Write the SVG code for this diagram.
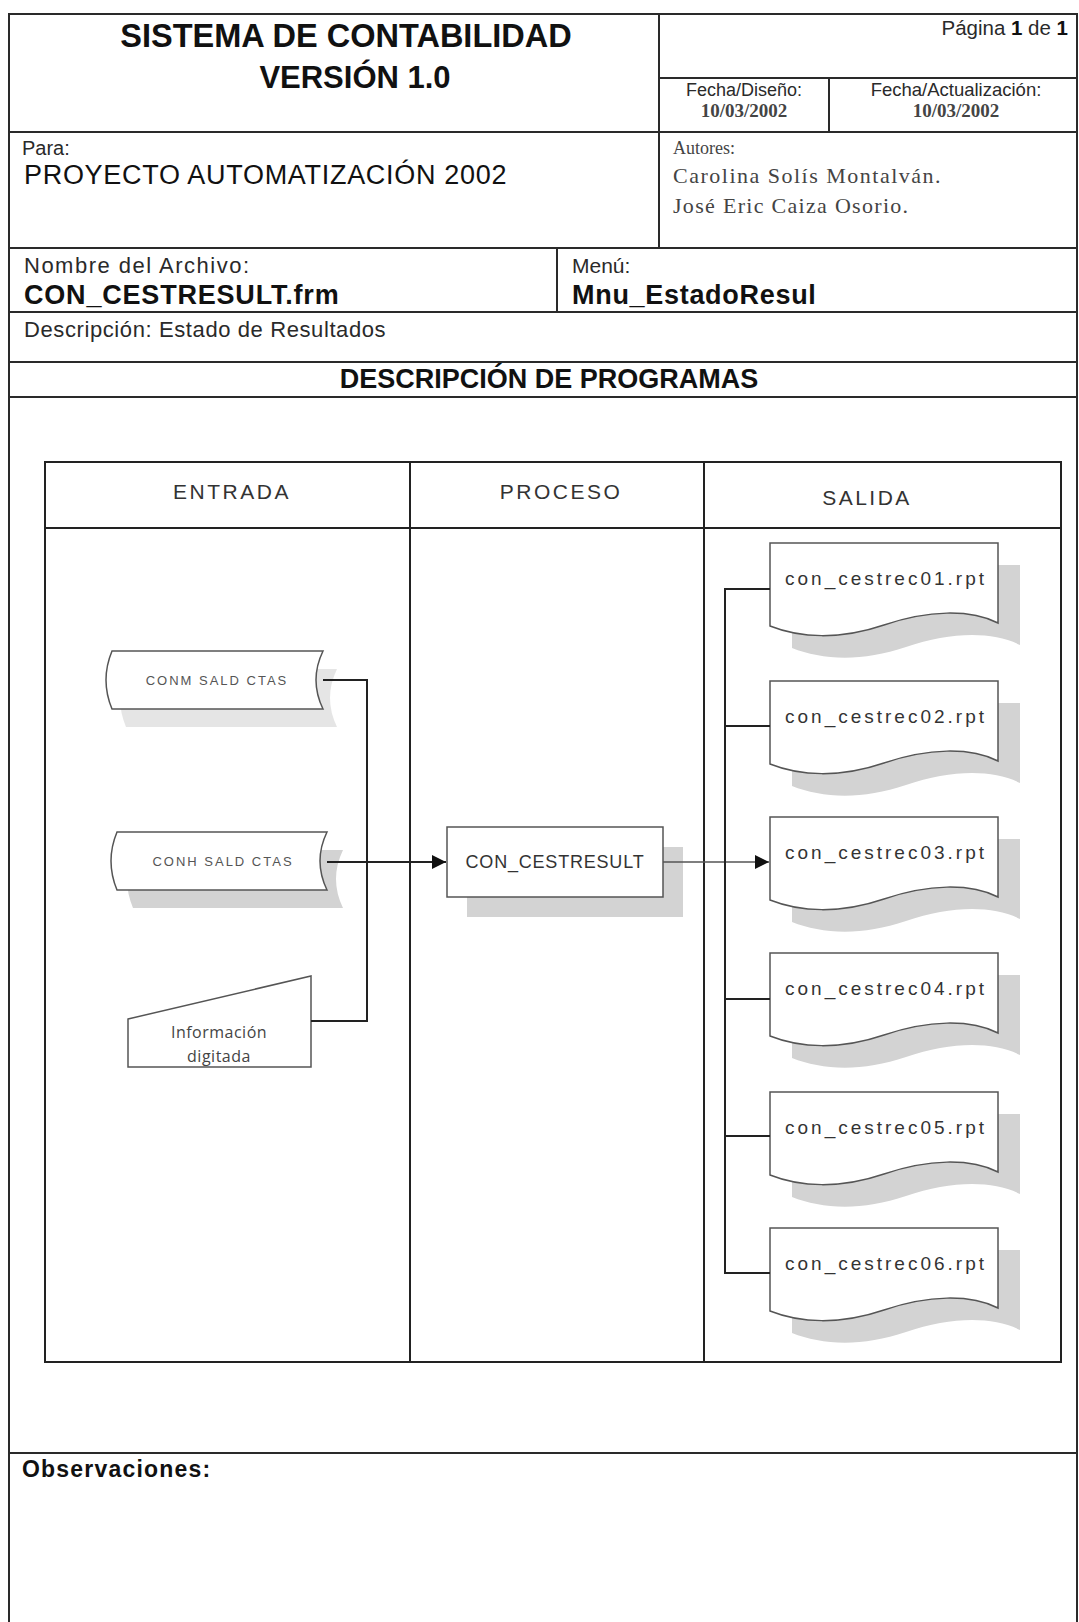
<svg xmlns="http://www.w3.org/2000/svg" width="1079" height="1622" viewBox="0 0 1079 1622">
<defs>
<style>
.frame{stroke:#2a2a2a;stroke-width:2;fill:none}
.lane{stroke:#222;stroke-width:2;fill:none}
.hdr{font-family:"Liberation Sans",Arial,sans-serif;fill:#2a2a2a}
.bold{font-weight:bold;fill:#111}
.serif{font-family:"Liberation Serif","Times New Roman",serif;fill:#444}
.lanetitle{font-family:"Liberation Sans",Arial,sans-serif;font-size:21px;letter-spacing:2.5px;fill:#333;text-anchor:middle}
.shape{fill:#fff;stroke:#555;stroke-width:1.5}
.shadow{fill:#d3d3d3}
.store{font-family:"Liberation Sans",Arial,sans-serif;font-size:13px;letter-spacing:2px;fill:#555;text-anchor:middle}
.doctext{font-family:"Liberation Sans",Arial,sans-serif;font-size:19px;letter-spacing:3px;fill:#333}
.conn{stroke:#222;stroke-width:2;fill:none}
.thin{stroke:#555;stroke-width:1.3;fill:none}
</style>
<marker id="arrow" viewBox="0 0 10 10" refX="10" refY="5" markerWidth="16" markerHeight="14" markerUnits="userSpaceOnUse" orient="auto">
<path d="M0,0 L10,5 L0,10 Z" fill="#111"/>
</marker>
<path id="doc" d="M0,0 H228 V80 C200,66 158,67 114,82 C70,97 30,95 0,83 Z"/>
</defs>
<rect width="1079" height="1622" fill="#fff"/>

<g id="page-frame" class="frame">
<path d="M9,1622 V14 H1077 V1622"/>
<path d="M9,132 H1077 M9,248 H1077 M9,312 H1077 M9,362 H1077 M9,397 H1077 M9,1453 H1077"/>
<path d="M659,14 V248 M659,78 H1077 M829,78 V132 M557,248 V312"/>
</g>

<g id="header" class="hdr">
<text class="bold" x="346" y="47" font-size="32.5" text-anchor="middle">SISTEMA DE CONTABILIDAD</text>
<text class="bold" x="355" y="88" font-size="31" text-anchor="middle">VERSIÓN 1.0</text>
<text x="1068" y="35" font-size="20.5" text-anchor="end">Página <tspan font-weight="bold" fill="#111">1</tspan> de <tspan font-weight="bold" fill="#111">1</tspan></text>
<text x="744" y="96" font-size="18" text-anchor="middle">Fecha/Diseño:</text>
<text class="serif" x="744" y="117" font-size="19" font-weight="bold" text-anchor="middle" fill="#222">10/03/2002</text>
<text x="956" y="96" font-size="18.5" text-anchor="middle">Fecha/Actualización:</text>
<text class="serif" x="956" y="117" font-size="19" font-weight="bold" text-anchor="middle" fill="#222">10/03/2002</text>
<text x="22" y="155" font-size="20">Para:</text>
<text x="24" y="184" font-size="27" letter-spacing="0.7" fill="#111">PROYECTO AUTOMATIZACIÓN 2002</text>
<text class="serif" x="673" y="154" font-size="18">Autores:</text>
<text class="serif" x="673" y="183" font-size="22" letter-spacing="1.5">Carolina Solís Montalván.</text>
<text class="serif" x="673" y="213" font-size="22" letter-spacing="1.3">José Eric Caiza Osorio.</text>
<text x="24" y="273" font-size="22" letter-spacing="1.5">Nombre del Archivo:</text>
<text class="bold" x="24" y="304" font-size="27" letter-spacing="0.8">CON_CESTRESULT.frm</text>
<text x="572" y="273" font-size="21">Menú:</text>
<text class="bold" x="572" y="304" font-size="27" letter-spacing="0.7">Mnu_EstadoResul</text>
<text x="24" y="337" font-size="22" letter-spacing="0.6">Descripción: Estado de Resultados</text>
<text class="bold" x="549" y="388" font-size="27" text-anchor="middle">DESCRIPCIÓN DE PROGRAMAS</text>
<text class="bold" x="22" y="1477" font-size="23" letter-spacing="1.2" fill="#222">Observaciones:</text>
</g>

<g id="swimlanes" class="lane">
<rect x="45" y="462" width="1016" height="900"/>
<path d="M45,528 H1061 M410,462 V1362 M704,462 V1362"/>
<text class="lanetitle" x="232" y="499" stroke="none">ENTRADA</text>
<text class="lanetitle" x="561" y="499" stroke="none">PROCESO</text>
<text class="lanetitle" x="867" y="505" stroke="none">SALIDA</text>
</g>

<g id="node-conm">
<path class="shadow" fill-opacity="0.6" d="M126,669 H337 Q323,698 337,727 H126 Q114,698 126,669 Z"/>
<path class="shape" d="M112,651 H323 Q309,680 323,709 H112 Q100,680 112,651 Z"/>
<text class="store" x="217" y="685">CONM SALD CTAS</text>
</g>

<g id="node-conh">
<path class="shadow" d="M133,850 H343 Q329,879 343,908 H133 Q121,879 133,850 Z"/>
<path class="shape" d="M117,832 H327 Q313,861 327,890 H117 Q105,861 117,832 Z"/>
<text class="store" x="223" y="866">CONH SALD CTAS</text>
</g>

<g id="node-info">
<path class="shape" d="M128,1019 L311,976 L311,1067 L128,1067 Z"/>
<text font-family="'Open Sans','Liberation Sans',sans-serif" font-size="16" fill="#444" text-anchor="middle" letter-spacing="0.5"><tspan x="219" y="1038">Información</tspan><tspan x="219" y="1062">digitada</tspan></text>
</g>

<g id="node-process">
<rect class="shadow" x="467" y="847" width="216" height="70"/>
<rect class="shape" x="447" y="827" width="216" height="70"/>
<text x="555" y="868" font-family="'Liberation Sans',Arial,sans-serif" font-size="18" letter-spacing="0.8" fill="#333" text-anchor="middle">CON_CESTRESULT</text>
</g>

<g id="node-doc1">
<use href="#doc" class="shadow" x="792" y="565"/>
<use href="#doc" class="shape" x="770" y="543"/>
<text class="doctext" x="785" y="585">con_cestrec01.rpt</text>
</g>
<g id="node-doc2">
<use href="#doc" class="shadow" x="792" y="703"/>
<use href="#doc" class="shape" x="770" y="681"/>
<text class="doctext" x="785" y="723">con_cestrec02.rpt</text>
</g>
<g id="node-doc3">
<use href="#doc" class="shadow" x="792" y="839"/>
<use href="#doc" class="shape" x="770" y="817"/>
<text class="doctext" x="785" y="859">con_cestrec03.rpt</text>
</g>
<g id="node-doc4">
<use href="#doc" class="shadow" x="792" y="975"/>
<use href="#doc" class="shape" x="770" y="953"/>
<text class="doctext" x="785" y="995">con_cestrec04.rpt</text>
</g>
<g id="node-doc5">
<use href="#doc" class="shadow" x="792" y="1114"/>
<use href="#doc" class="shape" x="770" y="1092"/>
<text class="doctext" x="785" y="1134">con_cestrec05.rpt</text>
</g>
<g id="node-doc6">
<use href="#doc" class="shadow" x="792" y="1250"/>
<use href="#doc" class="shape" x="770" y="1228"/>
<text class="doctext" x="785" y="1270">con_cestrec06.rpt</text>
</g>

<g id="connectors">
<path class="conn" d="M323,680 H367 V1021 H311"/>
<path class="conn" stroke-width="3.5" d="M323,680 H344 M327,862 H348"/>
<path class="conn" d="M327,862 H446" marker-end="url(#arrow)"/>
<path class="thin" d="M663,862 H769" marker-end="url(#arrow)"/>
<path class="conn" stroke-width="1.6" d="M770,589 H725 V1273 H770 M725,726 H770 M725,999 H770 M725,1136 H770"/>
</g>
</svg>
